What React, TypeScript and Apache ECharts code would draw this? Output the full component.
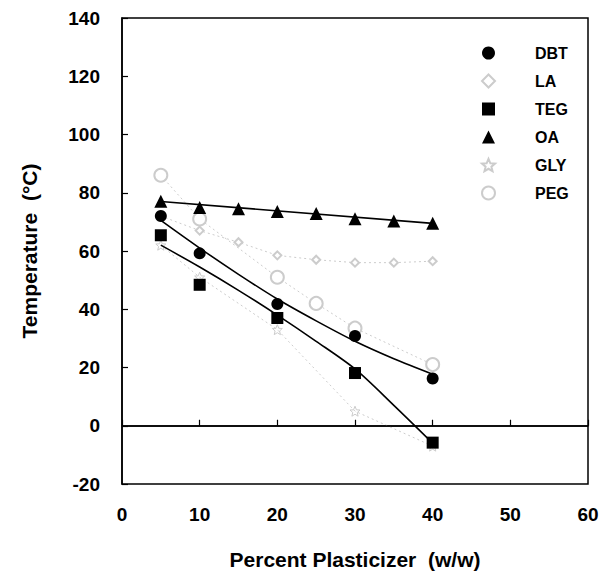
import React, { useEffect, useRef } from "react";
import * as echarts from "echarts";

// Measured data (Percent plasticizer w/w vs. Temperature °C)
const xTicks = [0, 10, 20, 30, 40, 50, 60];
const yTicks = [-20, 0, 20, 40, 60, 80, 100, 120, 140];

const dbtX = [5, 10, 20, 30, 40];
const dbtY = [72, 59.2, 41.8, 30.8, 16.2];
const dbtFitX = [5, 10, 15, 20, 25, 30, 35, 40];
const dbtFitY = [70.5, 61, 52, 43.5, 36, 29, 23, 17.7];

const tegX = [5, 10, 20, 30, 40];
const tegY = [65.4, 48.4, 37, 18.1, -5.8];
const tegFitX = [5, 10, 15, 20, 25, 30, 35, 40];
const tegFitY = [62, 54.5, 46.5, 38, 29, 19.5, 7, -6];

const oaX = [5, 10, 15, 20, 25, 30, 35, 40];
const oaY = [77.1, 74.9, 74.5, 73.6, 72.9, 71.1, 70.3, 69.5];
const oaFitX = [5, 40];
const oaFitY = [77, 69.5];

const laX = [5, 10, 15, 20, 25, 30, 35, 40];
const laY = [72, 67, 63, 58.5, 57, 56, 56, 56.5];

const glyX = [5, 10, 20, 30, 40];
const glyY = [62, 51, 33, 5, -7];

const pegX = [5, 10, 20, 25, 30, 40];
const pegY = [86, 71, 51, 42, 33.5, 21];

const zip = (xs: number[], ys: number[]) => xs.map((x, i) => [x, ys[i]]);

const GRAY = "#cccccc";
const FONT = "Liberation Sans";
const STAR =
  "path://M12,2 L14.9,8.9 L22,9.3 L16.5,14 L18.2,21 L12,17.3 L5.8,21 L7.5,14 L2,9.3 L9.1,8.9 Z";

export default function App() {
  const ref = useRef<HTMLDivElement>(null);
  useEffect(() => {
    if (!ref.current) return;
    const chart = echarts.init(ref.current, undefined, { renderer: "svg" });
    const grayLine = (name: string, xs: number[], ys: number[]) => ({
      name,
      type: "line",
      data: zip(xs, ys),
      symbol: "none",
      lineStyle: { color: GRAY, width: 1, type: [2, 3] },
      silent: true,
      z: 1,
    });
    chart.setOption({
      animation: false,
      backgroundColor: "#fff",
      textStyle: { fontFamily: FONT },
      grid: {
        left: 122,
        right: 15,
        top: 18,
        bottom: 89,
        show: true,
        borderColor: "#000",
        borderWidth: 1.5,
      },
      legend: {
        orient: "vertical",
        left: 481,
        top: 45,
        padding: 0,
        itemWidth: 13,
        itemHeight: 13,
        itemGap: 12,
        selectedMode: false,
        textStyle: {
          fontFamily: FONT,
          fontWeight: "bold",
          fontSize: 16,
          color: "#000",
          padding: [0, 0, 0, 35],
        },
        data: ["DBT", "LA", "TEG", "OA", "GLY", "PEG"],
      },
      xAxis: {
        type: "value",
        min: xTicks[0],
        max: xTicks[xTicks.length - 1],
        interval: 10,
        name: "Percent Plasticizer  (w/w)",
        nameLocation: "middle",
        nameGap: 65,
        nameTextStyle: { fontFamily: FONT, fontWeight: "bold", fontSize: 21, color: "#000" },
        axisLine: { show: true, lineStyle: { color: "#000", width: 1.5 } },
        axisTick: { show: true, inside: true, length: 6, lineStyle: { color: "#000", width: 1.2 } },
        axisLabel: { fontFamily: FONT, fontWeight: "bold", fontSize: 19, color: "#000", margin: 21 },
        splitLine: { show: false },
      },
      yAxis: {
        type: "value",
        min: yTicks[0],
        max: yTicks[yTicks.length - 1],
        interval: 20,
        name: "Temperature  (°C)",
        nameLocation: "middle",
        nameRotate: 90,
        nameGap: 82,
        nameTextStyle: { fontFamily: FONT, fontWeight: "bold", fontSize: 21, color: "#000" },
        axisLine: { show: true, lineStyle: { color: "#000", width: 1.5 } },
        axisTick: { show: true, inside: true, length: 6, lineStyle: { color: "#000", width: 1.2 } },
        axisLabel: { fontFamily: FONT, fontWeight: "bold", fontSize: 19, color: "#000", margin: 22 },
        splitLine: { show: false },
      },
      series: [
        grayLine("LA line", laX, laY),
        grayLine("GLY line", glyX, glyY),
        grayLine("PEG line", pegX, pegY),
        {
          name: "LA",
          type: "scatter",
          data: zip(laX, laY),
          symbol: "emptyDiamond",
          symbolSize: 8,
          itemStyle: { color: GRAY, borderColor: GRAY, borderWidth: 1, opacity: 1 },
          z: 2,
        },
        {
          name: "GLY",
          type: "scatter",
          data: zip(glyX, glyY),
          symbol: STAR,
          symbolSize: 10,
          itemStyle: { color: "rgba(0,0,0,0)", borderColor: GRAY, borderWidth: 1, opacity: 1 },
          z: 2,
        },
        {
          name: "PEG",
          type: "scatter",
          data: zip(pegX, pegY),
          symbol: "emptyCircle",
          symbolSize: 13,
          itemStyle: { color: GRAY, borderColor: GRAY, borderWidth: 1, opacity: 1 },
          z: 2,
        },
        {
          name: "OA fit",
          type: "line",
          data: zip(oaFitX, oaFitY),
          symbol: "none",
          lineStyle: { color: "#000", width: 1.6 },
          z: 3,
          markLine: {
            silent: true,
            symbol: "none",
            label: { show: false },
            lineStyle: { color: "#000", width: 1.6, type: "solid" },
            data: [{ yAxis: 0 }],
          },
        },
        {
          name: "DBT fit",
          type: "line",
          data: zip(dbtFitX, dbtFitY),
          symbol: "none",
          smooth: 0.3,
          lineStyle: { color: "#000", width: 1.6 },
          z: 3,
        },
        {
          name: "TEG fit",
          type: "line",
          data: zip(tegFitX, tegFitY),
          symbol: "none",
          smooth: 0.3,
          lineStyle: { color: "#000", width: 1.6 },
          z: 3,
        },
        {
          name: "DBT",
          type: "scatter",
          data: zip(dbtX, dbtY),
          symbol: "circle",
          symbolSize: 12,
          itemStyle: { color: "#000", opacity: 1 },
          z: 4,
        },
        {
          name: "TEG",
          type: "scatter",
          data: zip(tegX, tegY),
          symbol: "rect",
          symbolSize: 12,
          itemStyle: { color: "#000", opacity: 1 },
          z: 4,
        },
        {
          name: "OA",
          type: "scatter",
          data: zip(oaX, oaY),
          symbol: "triangle",
          symbolSize: 13,
          itemStyle: { color: "#000", opacity: 1 },
          z: 4,
        },
      ],
    });
    return () => chart.dispose();
  }, []);
  return (
    <div
      ref={ref}
      style={{ position: "fixed", left: 0, top: 0, width: 603, height: 575, background: "#fff" }}
    />
  );
}
